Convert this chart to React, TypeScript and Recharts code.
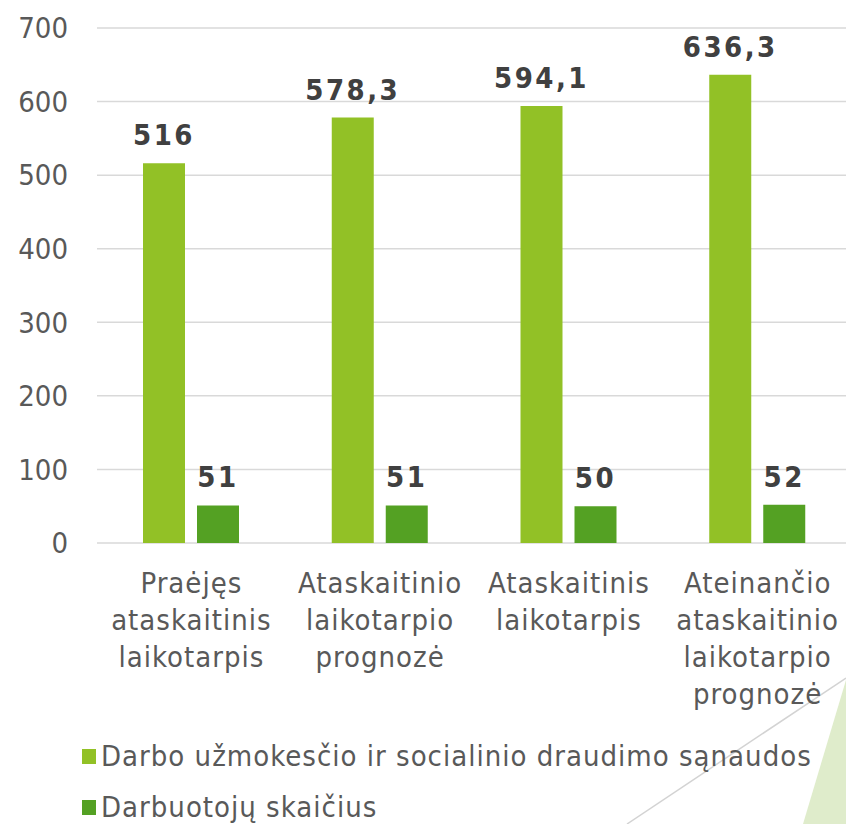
import { Bar, BarChart, CartesianGrid, LabelList, Legend, XAxis, YAxis } from "recharts";

const FONT = '"DejaVu Sans Condensed", "DejaVu Sans", sans-serif';
const LIGHT = "#92c126";
const DARK = "#54a123";
const TEXT = "#595959";

const categories = [
  ["Praėjęs", "ataskaitinis", "laikotarpis"],
  ["Ataskaitinio", "laikotarpio", "prognozė"],
  ["Ataskaitinis", "laikotarpis"],
  ["Ateinančio", "ataskaitinio", "laikotarpio", "prognozė"],
];
const costs = [516, 578.3, 594.1, 636.3];
const staff = [51, 51, 50, 52];
const yTicks = [0, 100, 200, 300, 400, 500, 600, 700];
const seriesNames = [
  "Darbo užmokesčio ir socialinio draudimo sąnaudos",
  "Darbuotojų skaičius",
];

const data = categories.map((lines, i) => ({
  name: lines.join(" "),
  costs: costs[i],
  staff: staff[i],
}));

const fmt = (v: unknown) => String(v).replace(".", ",");

const labelStyle = { fill: "#404040", fontSize: 29, fontWeight: 700, fontFamily: FONT, letterSpacing: 2.5 };

function CategoryTick({ x, y, payload }: { x?: number; y?: number; payload?: { index: number } }) {
  const lines = categories[payload?.index ?? 0];
  return (
    <text x={x} y={(y ?? 0) + 50} textAnchor="middle" fill={TEXT} fontSize={29} fontFamily={FONT} letterSpacing={1}>
      {lines.map((l, i) => (
        <tspan key={i} x={x} dy={i === 0 ? 0 : 37}>
          {l}
        </tspan>
      ))}
    </text>
  );
}

function ChartLegend() {
  const colors = [LIGHT, DARK];
  return (
    <div style={{ height: 90, position: "relative", fontFamily: FONT }}>
      {seriesNames.map((n, i) => (
        <div
          key={n}
          style={{
            position: "absolute",
            left: 82,
            top: 4 + i * 51,
            display: "flex",
            alignItems: "center",
            height: 36,
            color: TEXT,
            fontSize: 29,
            letterSpacing: 1,
            whiteSpace: "nowrap",
          }}
        >
          <span style={{ width: 14, height: 15, background: colors[i], marginRight: 5, display: "inline-block" }} />
          {n}
        </div>
      ))}
    </div>
  );
}

export default function App() {
  return (
    <div style={{ position: "absolute", left: 0, top: 0, width: 846, height: 824, overflow: "hidden", background: "#fff" }}>
      <svg width={846} height={824} style={{ position: "absolute", left: 0, top: 0 }}>
        <polygon points="846,680 803,824 846,824" fill="#dfeccb" />
        <line x1={846} y1={678} x2={627} y2={824} stroke="#d3d3d3" strokeWidth={1.5} />
      </svg>
      <div style={{ position: "absolute", left: 0, top: 0 }}>
        <BarChart
          width={852}
          height={824}
          data={data}
          margin={{ top: 28, right: 0, bottom: 0, left: 0 }}
          barSize={42}
          barGap={12}
        >
          <CartesianGrid vertical={false} stroke="#d9d9d9" strokeWidth={1.5} />
          <XAxis
            dataKey="name"
            axisLine={false}
            tickLine={false}
            tickSize={0}
            tickMargin={0}
            height={191}
            interval={0}
            tick={<CategoryTick />}
          />
          <YAxis
            domain={[0, 700]}
            ticks={yTicks}
            width={97}
            axisLine={false}
            tickLine={false}
            tickSize={0}
            tickMargin={29}
            tick={{ fill: TEXT, fontSize: 29, fontFamily: FONT }}
          />
          <Legend verticalAlign="bottom" align="left" content={<ChartLegend />} wrapperStyle={{ left: 0, width: 846 }} />
          <Bar dataKey="costs" name={seriesNames[0]} fill={LIGHT} isAnimationActive={false}>
            <LabelList dataKey="costs" position="top" offset={18} formatter={fmt} style={labelStyle} />
          </Bar>
          <Bar dataKey="staff" name={seriesNames[1]} fill={DARK} isAnimationActive={false}>
            <LabelList dataKey="staff" position="top" offset={18} formatter={fmt} style={labelStyle} />
          </Bar>
        </BarChart>
      </div>
    </div>
  );
}
